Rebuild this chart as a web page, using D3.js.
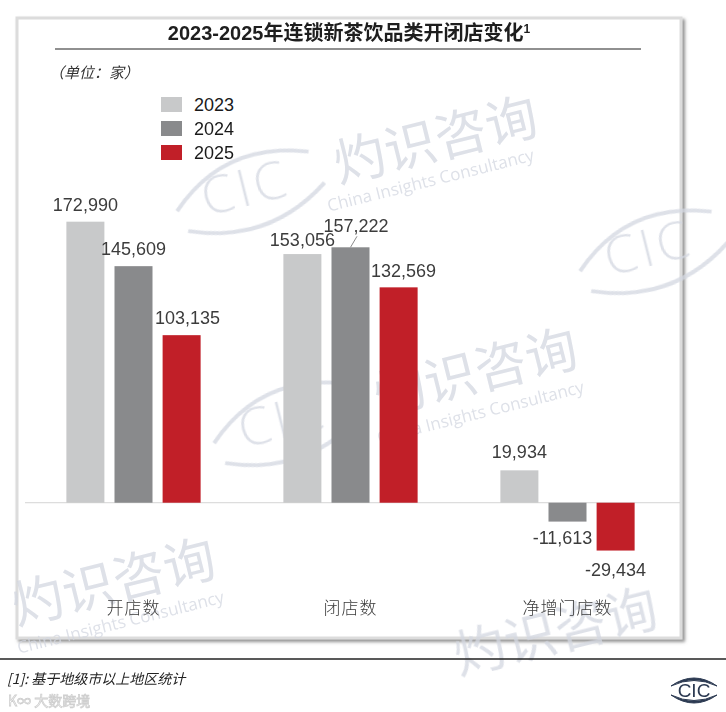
<!DOCTYPE html>
<html>
<head>
    <meta charset="utf-8">
    <title>2023-2025年连锁新茶饮品类开闭店变化</title>
    <script src="https://cdnjs.cloudflare.com/ajax/libs/d3/7.8.5/d3.min.js"></script>
    <style>
        body { margin: 0; background: #fff; }
        svg { display: block; }
    </style>
</head>
<body>
    <div id="chart"></div>
    <script>
        // data
        const categories = ['开店数', '闭店数', '净增门店数'];
        const years = ['2023', '2024', '2025'];
        const values2023 = [172990, 153056, 19934];
        const values2024 = [145609, 157222, -11613];
        const values2025 = [103135, 132569, -29434];
        const seriesValues = [values2023, values2024, values2025];

        const YEAR_COLORS = ['#c8c9ca', '#898a8c', '#c11f28'];

        // small hand nudges for value labels [dx, dy], per year then category
        const labelNudge = [
            [[0, 0], [0, 3], [0, -1]],
            [[0, 0], [5.5, -4], [-5, -1]],
            [[6, 0], [5, 1], [0, 2]]
        ];

        const W = 726, H = 712;
        const svg = d3.select('#chart')
            .append('svg')
            .attr('width', W)
            .attr('height', H);

        const defs = svg.append('defs');
        const shadow = defs.append('filter').attr('id', 'shadow')
            .attr('x', '-5%').attr('y', '-5%').attr('width', '110%').attr('height', '110%');
        shadow.append('feDropShadow')
            .attr('dx', 2.5).attr('dy', 2.5)
            .attr('stdDeviation', 1.5)
            .attr('flood-color', '#777')
            .attr('flood-opacity', 0.8);

        // card frame
        svg.append('rect')
            .attr('x', 17).attr('y', 18)
            .attr('width', 664).attr('height', 620)
            .attr('fill', '#fff')
            .attr('stroke', '#dcdcdc')
            .attr('stroke-width', 3)
            .attr('filter', 'url(#shadow)');

        // faint watermarks (only the ones that sit inside the picture)
        const wmColor = '#d3d7e1';
        const wm = svg.append('g').attr('fill', wmColor).attr('opacity', 0.75);
        const wmCn = [[440, 158], [480, 390], [118, 600], [560, 650]];
        const wmEn = [[432, 186], [482, 418], [122, 628]];
        const wmLogo = [[245, 186], [282, 418], [648, 246]];
        wmCn.forEach(([mx, my]) => {
            wm.append('text')
                .attr('transform', `translate(${mx},${my}) rotate(-14)`)
                .attr('text-anchor', 'middle')
                .style('font-family', '"Noto Sans CJK SC", sans-serif')
                .style('font-size', '52px')
                .text('灼识咨询');
        });
        wmEn.forEach(([mx, my]) => {
            wm.append('text')
                .attr('transform', `translate(${mx},${my}) rotate(-14)`)
                .attr('text-anchor', 'middle')
                .style('font-family', '"Open Sans", sans-serif')
                .style('font-size', '17px')
                .text('China Insights Consultancy');
        });
        wmLogo.forEach(([mx, my]) => {
            const g = wm.append('g').attr('transform', `translate(${mx},${my}) rotate(-14)`);
            g.append('text')
                .attr('text-anchor', 'middle')
                .attr('y', 20)
                .style('font-family', '"Open Sans", sans-serif')
                .style('font-size', '52px')
                .style('font-weight', 300)
                .style('letter-spacing', '4px')
                .text('CIC');
            g.append('path')
                .attr('d', 'M-72,8 Q-10,-48 70,-18 M-66,30 Q10,62 78,16')
                .attr('fill', 'none')
                .attr('stroke', wmColor)
                .attr('stroke-width', 4);
        });

        // title
        const title = svg.append('text')
            .attr('x', 349).attr('y', 40)
            .attr('text-anchor', 'middle')
            .style('font-family', '"Liberation Sans", "Noto Sans CJK SC", sans-serif')
            .style('font-size', '20px')
            .style('font-weight', 'bold')
            .attr('fill', '#1e1e1e');
        title.append('tspan').text('2023-2025');
        title.append('tspan')
            .style('font-family', '"Noto Sans CJK SC", sans-serif')
            .text('年连锁新茶饮品类开闭店变化');
        title.append('tspan').attr('dy', -7).style('font-size', '12px').text('1');

        svg.append('line')
            .attr('x1', 55).attr('x2', 641)
            .attr('y1', 49).attr('y2', 49)
            .attr('stroke', '#222').attr('stroke-width', 1.2);

        svg.append('text')
            .attr('x', 49).attr('y', 78)
            .style('font-family', '"Noto Sans CJK SC", sans-serif')
            .style('font-size', '15px')
            .style('font-style', 'italic')
            .attr('fill', '#333')
            .text('（单位：家）');

        // legend
        const legend = svg.append('g').attr('transform', 'translate(161,97)');
        years.forEach((yr, i) => {
            const item = legend.append('g').attr('transform', `translate(0,${i * 24})`);
            item.append('rect')
                .attr('width', 21).attr('height', 15)
                .attr('fill', YEAR_COLORS[i]);
            item.append('text')
                .attr('x', 33).attr('y', 14)
                .style('font-family', '"Liberation Sans", Arial, sans-serif')
                .style('font-size', '18px')
                .attr('fill', '#1a1a1a')
                .text(yr);
        });

        // scales
        const x0 = d3.scaleBand()
            .domain(categories)
            .range([25, 676])
            .padding(0);

        const x1 = d3.scaleBand()
            .domain(years)
            .range([0, x0.bandwidth()])
            .paddingInner(0.21)
            .paddingOuter(0.86);

        const y = d3.scaleLinear()
            .domain([-60000, 200000])
            .range([600.2, 177.8]);

        // zero line
        svg.append('line')
            .attr('x1', 25).attr('x2', 680)
            .attr('y1', y(0)).attr('y2', y(0))
            .attr('stroke', '#d4d4d4').attr('stroke-width', 1);

        const bars = svg.append('g');
        const labels = svg.append('g')
            .style('font-family', '"Liberation Sans", Arial, sans-serif')
            .style('font-size', '18px')
            .attr('fill', '#3c3c3c')
            .attr('text-anchor', 'middle');
        const fmt = d3.format(',');

        seriesValues.forEach((vals, si) => {
            vals.forEach((v, ci) => {
                const bx = x0(categories[ci]) + x1(years[si]);
                const bw = x1.bandwidth();
                const top = y(Math.max(0, v));
                const bot = y(Math.min(0, v));
                bars.append('rect')
                    .attr('x', bx).attr('y', top)
                    .attr('width', bw).attr('height', bot - top)
                    .attr('fill', YEAR_COLORS[si]);

                const [dx, dy] = labelNudge[si][ci];
                const lx = bx + bw / 2 + dx;
                const ly = (v >= 0 ? top - 11 : bot + 23) + dy;
                labels.append('text')
                    .attr('x', lx).attr('y', ly)
                    .text(fmt(v).replace('−', '-'));

                // leader line where the label was pushed up
                if (dy < -3) {
                    svg.append('line')
                        .attr('x1', lx + 1).attr('y1', ly + 4)
                        .attr('x2', bx + bw / 2).attr('y2', top)
                        .attr('stroke', '#8a8a8a').attr('stroke-width', 1);
                }
            });
        });

        // category labels
        svg.append('g')
            .selectAll('text')
            .data(categories)
            .join('text')
            .attr('x', d => x0(d) + x0.bandwidth() / 2)
            .attr('y', 614)
            .attr('text-anchor', 'middle')
            .style('font-family', '"Noto Sans CJK SC", sans-serif')
            .style('font-size', '17px')
            .style('font-weight', 300)
            .style('letter-spacing', '1px')
            .attr('fill', '#3a3a3a')
            .text(d => d);

        // footnote
        svg.append('line')
            .attr('x1', 0).attr('x2', W)
            .attr('y1', 659).attr('y2', 659)
            .attr('stroke', '#222').attr('stroke-width', 1.5);

        svg.append('text')
            .attr('x', 7).attr('y', 684)
            .style('font-family', '"Noto Sans CJK SC", sans-serif')
            .style('font-size', '14px')
            .style('font-style', 'italic')
            .attr('fill', '#222')
            .text('[1]: 基于地级市以上地区统计');

        svg.append('text')
            .attr('x', 8).attr('y', 706)
            .style('font-family', '"Noto Sans CJK SC", sans-serif')
            .style('font-size', '14px')
            .attr('fill', 'none')
            .attr('stroke', '#cfcfcf')
            .attr('stroke-width', 0.8)
            .text('K∞ 大数跨境');

        // CIC logo
        const logo = svg.append('g').attr('transform', 'translate(694,690)');
        logo.append('path')
            .attr('d', 'M-23,-4 Q0,-20 23,-4 Q0,-15 -23,-4 Z')
            .attr('fill', '#2c3a52').attr('stroke', '#2c3a52').attr('stroke-width', 1);
        logo.append('path')
            .attr('d', 'M-23,5 Q0,21 23,5 Q0,16 -23,5 Z')
            .attr('fill', '#2c3a52').attr('stroke', '#2c3a52').attr('stroke-width', 1);
        logo.append('text')
            .attr('y', 7)
            .attr('text-anchor', 'middle')
            .style('font-family', '"Liberation Sans", Arial, sans-serif')
            .style('font-size', '19px')
            .attr('fill', '#2c3a52')
            .text('CIC');
    </script>
</body>
</html>
